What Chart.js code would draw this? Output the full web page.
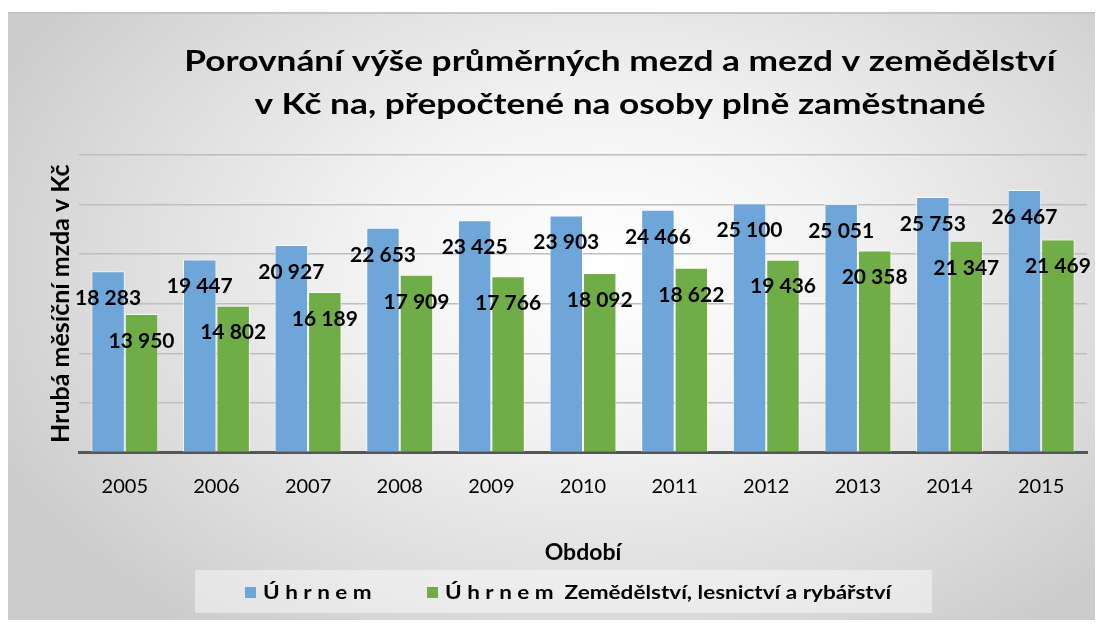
<!DOCTYPE html>
<html>
<head>
<meta charset="utf-8">
<script src="https://cdn.jsdelivr.net/npm/chart.js@4.4.0/dist/chart.umd.min.js"></script>
<style>
  body { margin: 0; background: #fff; }
  #box {
    position: absolute; left: 8px; top: 12px; width: 1087px; height: 608px;
    background: radial-gradient(ellipse 62% 75% at 55% 42%, #ffffff 0%, #f3f3f3 35%, #dadada 78%, #cccccc 100%);
    border-top: 2px solid #c4c4c4;
    box-sizing: border-box;
  }
  canvas { display: block; }
</style>
</head>
<body>
<div id="box"><canvas id="chart" width="1087" height="606"></canvas></div>
<script>
const years = ['2005', '2006', '2007', '2008', '2009', '2010', '2011', '2012', '2013', '2014', '2015'];
const totalWages = [18283, 19447, 20927, 22653, 23425, 23903, 24466, 25100, 25051, 25753, 26467];
const farmWages = [13950, 14802, 16189, 17909, 17766, 18092, 18622, 19436, 20358, 21347, 21469];
const seriesNames = ['Ú h r n e m', 'Ú h r n e m  Zemědělství, lesnictví a rybářství'];
const titleLines = ['Porovnání výše průměrných mezd a mezd v zemědělství', 'v Kč na, přepočtené na osoby plně zaměstnané'];

const FONT = 'Lato';

function fmt(v) {
    return String(v).replace(/\B(?=(\d{3})+(?!\d))/g, ' ');
}

// the original text looks stretched sideways, so draw it a bit wider
function wideText(ctx, text, x, y, sx, align) {
    ctx.save();
    ctx.translate(x, y);
    ctx.scale(sx, 1);
    ctx.textAlign = align;
    ctx.fillText(text, 0, 0);
    ctx.restore();
}

const titlePlugin = {
    id: 'bigTitle',
    afterDraw(chart) {
        const ctx = chart.ctx;
        ctx.save();
        ctx.font = 'bold 28px ' + FONT;
        ctx.fillStyle = '#000';
        ctx.textBaseline = 'middle';
        wideText(ctx, titleLines[0], 612, 48, 1.26, 'center');
        wideText(ctx, titleLines[1], 612, 91, 1.26, 'center');
        ctx.restore();
    }
};

// value labels just inside the top of each bar
const valuePlugin = {
    id: 'values',
    afterDatasetsDraw(chart) {
        const ctx = chart.ctx;
        ctx.save();
        ctx.font = 'bold 21px ' + FONT;
        ctx.fillStyle = '#000';
        ctx.textAlign = 'center';
        ctx.textBaseline = 'middle';
        chart.data.datasets.forEach((ds, i) => {
            chart.getDatasetMeta(i).data.forEach((el, j) => {
                ctx.fillText(fmt(ds.data[j]), el.x, el.y + 27);
            });
        });
        ctx.restore();
    }
};

// legend with its lighter band
const legendPlugin = {
    id: 'ownLegend',
    beforeDraw(chart) {
        const ctx = chart.ctx;
        ctx.save();
        ctx.fillStyle = 'rgba(255,255,255,0.45)';
        ctx.fillRect(187, 556, 737, 43);
        ctx.restore();
    },
    afterDraw(chart) {
        const ctx = chart.ctx;
        const xs = [237, 419];
        const y = 579;
        ctx.save();
        ctx.font = 'bold 18px ' + FONT;
        ctx.textBaseline = 'middle';
        chart.data.datasets.forEach((ds, i) => {
            ctx.fillStyle = ds.backgroundColor;
            ctx.fillRect(xs[i], y - 6, 11, 11);
            ctx.fillStyle = '#000';
            wideText(ctx, seriesNames[i], xs[i] + 18, y, 1.25, 'left');
        });
        ctx.restore();
    }
};

new Chart(document.getElementById('chart'), {
    type: 'bar',
    data: {
        labels: years,
        datasets: [
            { label: seriesNames[0], data: totalWages, backgroundColor: '#6fa6da', borderColor: 'rgba(255,255,255,0.7)', borderWidth: 1 },
            { label: seriesNames[1], data: farmWages, backgroundColor: '#70ad47', borderColor: 'rgba(255,255,255,0.7)', borderWidth: 1 }
        ]
    },
    options: {
        responsive: false,
        animation: false,
        layout: { padding: { top: 141, right: 8, left: 38, bottom: 50 } },
        datasets: { bar: { categoryPercentage: 0.73, barPercentage: 1 } },
        plugins: {
            legend: { display: false },
            title: { display: false },
            tooltip: { enabled: false }
        },
        scales: {
            x: {
                grid: { display: false },
                border: { color: '#555', width: 3 },
                ticks: { color: '#000', font: { family: FONT, size: 20 }, padding: 14 },
                title: { display: true, text: 'Období', color: '#000', font: { family: FONT, size: 23, weight: 'bold' }, padding: { top: 26, bottom: 4 } }
            },
            y: {
                min: 0, max: 30000,
                ticks: { display: false, stepSize: 5000 },
                grid: { color: '#bdbdbd', lineWidth: 1.5, drawTicks: false },
                border: { display: false },
                title: { display: true, text: 'Hrubá měsíční mzda v Kč', color: '#000', font: { family: FONT, size: 25, weight: 'bold' }, padding: { top: 0, bottom: 3 } }
            }
        }
    },
    plugins: [titlePlugin, valuePlugin, legendPlugin]
});
</script>
</body>
</html>
